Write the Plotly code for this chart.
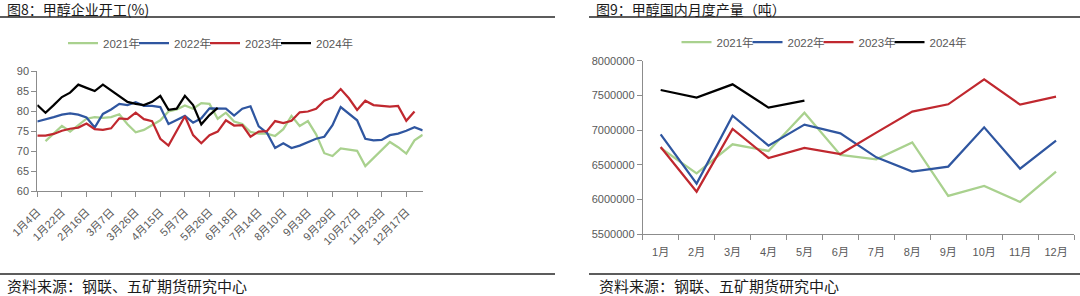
import plotly.graph_objects as go

# ---------------- data ----------------
years = ["2021年", "2022年", "2023年", "2024年"]
colors = ["#A9D18E", "#2F56A0", "#C0282F", "#000000"]

# left chart: weekly operating rate (%), 48 weekly slots
week_tick_labels = ["1月4日", "1月22日", "2月16日", "3月7日", "3月26日", "4月15日",
                    "5月7日", "5月26日", "6月18日", "7月14日", "8月10日", "9月3日",
                    "9月29日", "10月27日", "11月23日", "12月17日"]
tick_every = 3
rate_2021 = [None, 72.5, 74.4, 76.3, 74.9, 76.5, 78.1, 78.5, 78.3, 78.5, 79.2, 76.7,
             74.7, 75.3, 76.5, 77.7, 79.9, 80.4, 81.4, 80.6, 82.0, 81.8, 78.1, 79.6,
             77.4, 76.8, 74.8, 74.4, 74.4, 73.8, 75.5, 78.8, 76.3, 77.5, 74.2, 69.5,
             68.8, 70.7, 70.4, 70.1, 66.3, 68.3, 70.5, 72.3, 71.0, 69.4, 72.7, 74.1]
rate_2022 = [77.4, 77.9, 78.5, 79.1, 79.4, 79.1, 78.4, 75.9, 79.3, 80.4, 81.8, 81.5,
             82.2, 81.3, 81.3, 81.0, 76.8, 77.8, 78.8, 77.1, 78.2, 80.7, 80.7, 80.6,
             78.9, 80.6, 81.2, 76.2, 74.6, 70.8, 72.0, 70.8, 71.4, 72.2, 73.1, 73.6,
             76.5, 81.0, 79.3, 77.7, 73.1, 72.7, 72.8, 74.0, 74.4, 75.1, 76.0, 75.2]
rate_2023 = [73.9, 73.9, 74.3, 75.1, 75.6, 75.9, 76.9, 75.5, 75.3, 75.7, 78.2, 78.0,
             79.6, 78.0, 77.5, 73.1, 71.4, 75.0, 78.7, 74.0, 72.0, 74.0, 74.9, 77.7,
             76.4, 76.5, 73.6, 74.9, 75.0, 77.5, 77.0, 77.6, 79.7, 79.9, 80.6, 82.6,
             83.4, 85.5, 83.2, 80.3, 82.6, 81.5, 81.3, 81.1, 81.3, 77.6, 79.9, None]
rate_2024 = [81.5, 79.6, 81.5, 83.5, 84.6, 86.6, 85.8, 85.0, 86.6, 85.2, 83.6, 82.3,
             81.8, 81.5, 82.3, 83.8, 80.3, 80.6, 83.8, 81.5, 76.7, 79.0, 80.8] + [None] * 25

# right chart: monthly output (tonnes)
months = ["1月", "2月", "3月", "4月", "5月", "6月", "7月", "8月", "9月", "10月", "11月", "12月"]
output_2021 = [6740000, 6375000, 6794000, 6698000, 7250000, 6640000, 6577000, 6822000,
               6049000, 6193000, 5962000, 6400000]
output_2022 = [6938000, 6227000, 7207000, 6775000, 7078000, 6952000, 6606000, 6400000,
               6472000, 7039000, 6443000, 6847000]
output_2023 = [6755000, 6111000, 7015000, 6597000, 6741000, 6654000, 6962000, 7265000,
               7371000, 7731000, 7366000, 7481000]
output_2024 = [7577000, 7467000, 7659000, 7323000, 7424000, None, None, None, None, None,
               None, None]

# ---------------- figure ----------------
W, H = 1080, 296
FONT = "Liberation Sans, Arial, Noto Sans CJK SC, sans-serif"
CJK = "Noto Sans CJK SC, Liberation Sans, sans-serif"
GRAY = "#595959"
AX = "#8C8C8C"


def px(x):
    return x / W


def py(y):
    return (H - y) / H


fig = go.Figure()


def add_series(series, xvals_fn, xa, ya, leg):
    for name, col, vals in zip(years, colors, series):
        fig.add_trace(go.Scatter(x=xvals_fn(vals), y=vals, mode="lines", name=name,
                                 line=dict(color=col, width=2.25), xaxis=xa, yaxis=ya,
                                 legend=leg, hoverinfo="skip"))
    # transparent spacer entry so the last legend label is not clipped
    fig.add_trace(go.Scatter(x=[None], y=[None], mode="lines", name=" ",
                             line=dict(color="rgba(0,0,0,0)", width=0.1), xaxis=xa,
                             yaxis=ya, legend=leg, hoverinfo="skip"))


add_series([rate_2021, rate_2022, rate_2023, rate_2024],
           lambda v: list(range(len(v))), "x", "y", "legend")
add_series([output_2021, output_2022, output_2023, output_2024],
           lambda v: months, "x2", "y2", "legend2")

n_weeks = len(rate_2021)
axis_common = dict(showline=True, linecolor=AX, linewidth=1, ticks="outside", ticklen=5,
                   tickcolor=AX, showgrid=False, zeroline=False, automargin=False,
                   tickfont=dict(family=FONT, size=11, color=GRAY))

legend_common = dict(orientation="h", xanchor="left", yanchor="middle",
                     font=dict(family=FONT, size=11.5, color=GRAY), entrywidth=26,
                     entrywidthmode="pixels", itemwidth=30, bgcolor="rgba(0,0,0,0)",
                     tracegroupgap=0)

fig.update_layout(
    width=W, height=H, margin=dict(l=0, r=0, t=0, b=0),
    paper_bgcolor="white", plot_bgcolor="white",
    showlegend=True,
    xaxis=dict(domain=[px(37.3), px(422.7)], range=[0, n_weeks - 1], anchor="y",
               tickmode="array",
               tickvals=[i * tick_every for i in range(len(week_tick_labels))],
               ticktext=week_tick_labels, tickangle=-45, ticklabelstandoff=4,
               **axis_common),
    yaxis=dict(domain=[py(191.3), py(71)], range=[60, 90], dtick=5, tick0=60, anchor="x",
               **axis_common),
    xaxis2=dict(domain=[px(642.7), px(1074)], type="category", categoryarray=months,
                range=[-0.5, 11.5], tickson="boundaries", anchor="y2",
                ticklabelstandoff=8, **axis_common),
    yaxis2=dict(domain=[py(234), py(60.7)], range=[5500000, 8000000], dtick=500000,
                tick0=5500000, tickformat="d", anchor="x2", **axis_common),
    legend=dict(x=px(63), y=py(43), **legend_common),
    legend2=dict(x=px(676.5), y=py(42), **legend_common),
)

line_style = dict(color="#262626", width=1.5)
for x0, x1 in [(0, 555), (589, 1080)]:
    for yy in (17, 274):
        fig.add_shape(type="line", xref="paper", yref="paper", x0=px(x0), x1=px(x1),
                      y0=py(yy), y1=py(yy), line=line_style)

ann = [
    dict(text="图8：甲醇企业开工(%)", x=px(5), y=py(8.5), size=14),
    dict(text="图9：甲醇国内月度产量（吨）", x=px(594), y=py(8.5), size=14),
    dict(text="资料来源：钢联、五矿期货研究中心", x=px(5), y=py(285.5), size=15),
    dict(text="资料来源：钢联、五矿期货研究中心", x=px(597), y=py(285.5), size=15),
]
for a in ann:
    fig.add_annotation(text=a["text"], x=a["x"], y=a["y"], xref="paper", yref="paper",
                       xanchor="left", yanchor="middle", showarrow=False,
                       font=dict(family=CJK, size=a["size"], color="#1a1a1a"))

fig.write_html("out.html")
